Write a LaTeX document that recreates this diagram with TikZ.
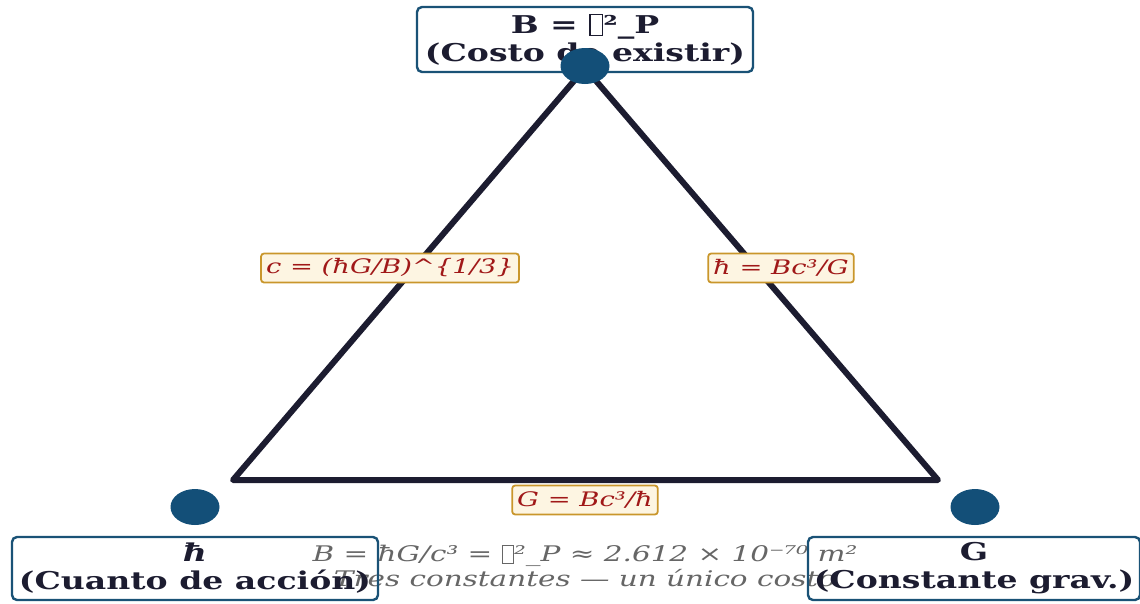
\documentclass[tikz,border=0pt]{standalone}
\usepackage{fontspec}
\usepackage{graphicx}
\usetikzlibrary{shapes.geometric}
\setmainfont{DejaVu Serif}
\definecolor{navy}{HTML}{1C1C30}
\definecolor{dotblue}{HTML}{134F78}
\definecolor{boxblue}{HTML}{1A5276}
\definecolor{labred}{HTML}{A01818}
\definecolor{labfill}{HTML}{FDF5E2}
\definecolor{labedge}{HTML}{C9962B}
\definecolor{greytxt}{HTML}{666666}
\newcommand{\tofu}{{\fboxsep=0pt\fboxrule=0.05em\fbox{\rule[-0.05em]{0pt}{0.8em}\hspace{0.32em}}}}
\newcommand{\sx}[2][1.36]{\scalebox{#1}[1]{#2}}
\begin{document}
\begin{tikzpicture}[x=1pt,y=-1pt,
  vbox/.style={draw=boxblue,line width=2.4pt,rounded corners=5pt,align=center,text=navy,
    font=\fontsize{24.5}{28}\selectfont\bfseries,inner sep=0pt},
  elab/.style={draw=labedge,fill=labfill,line width=1.8pt,rounded corners=3pt,text=labred,
    font=\fontsize{20}{22}\selectfont\itshape,inner xsep=5pt,inner ysep=0pt,minimum height=29pt},
  dot/.style={fill=dotblue,draw=none,ellipse,minimum width=49pt,minimum height=36pt,inner sep=0pt},
  triedge/.style={draw=navy,line width=6pt,line join=round}]
\useasboundingbox (0,0) rectangle (1140,603);
% bottom caption (drawn first, boxes over it)
\node[text=greytxt,font=\fontsize{21.5}{25}\selectfont\itshape,align=center] (cap) at (585,566)
  {\sx[1.37]{B = ħG/c³ = \tofu²\_P ≈ 2.612 × 10⁻⁷⁰ m²}\\\sx[1.37]{Tres constantes — un único costo}};
% triangle vertices
\coordinate (A) at (585,68);
\coordinate (L) at (233,480);
\coordinate (R) at (938,480);
\draw[triedge] (A) -- (L) -- (R) -- cycle;
% vertex boxes
\node[vbox,minimum width=336pt,minimum height=65pt] (top) at (585,39.5) {\sx[1.35]{B = \tofu²\_P}\\\sx[1.35]{(Costo de existir)}};
\node[vbox,minimum width=366pt,minimum height=63pt] (left) at (195,568.5) {\sx[1.35]{\textit{ħ}}\\\sx[1.35]{(Cuanto de acción)}};
\node[vbox,minimum width=332pt,minimum height=63pt] (right) at (974,568.5) {\sx[1.35]{G}\\\sx[1.35]{(Constante grav.)}};
% dots
\node[dot] (dA) at (585,66) {};
\node[dot] (dL) at (195,507) {};
\node[dot] (dR) at (975,507) {};
% edge labels
\node[elab] (lab1) at (390,268) {\sx[1.37]{c = (ħG/B)\^{}\{1/3\}}};
\node[elab] (lab2) at (781,268) {\sx[1.37]{ħ = Bc³/G}};
\node[elab] (lab3) at (585,500) {\sx[1.37]{G = Bc³/ħ}};
\end{tikzpicture}
\end{document}
